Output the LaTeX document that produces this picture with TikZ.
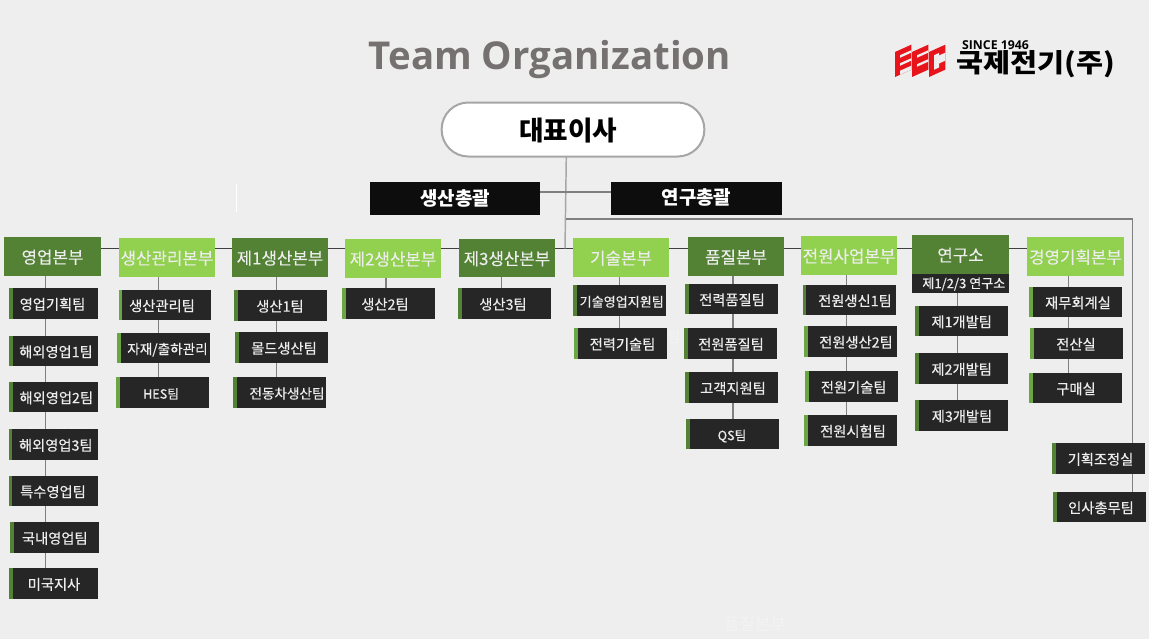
\documentclass[tikz,border=0pt]{standalone}
\usepackage{fontspec}
\setmainfont{Noto Sans CJK KR}
\newfontfamily\titlefont{Open Sans}
\newfontfamily\medk[FakeBold=0.4]{Noto Sans CJK KR}
\newfontfamily\medh[FakeBold=0.2]{Noto Sans CJK KR}
\usetikzlibrary{backgrounds}
\definecolor{bgc}{HTML}{EEEEEE}
\definecolor{dgreen}{HTML}{548235}
\definecolor{lgreen}{HTML}{92D050}
\definecolor{mgreen}{HTML}{6BA644}
\definecolor{darkbox}{HTML}{262626}
\definecolor{blackbox}{HTML}{0D0D0D}
\definecolor{txt}{HTML}{EDEDED}
\definecolor{faint}{HTML}{F3F3F3}
\definecolor{conn}{HTML}{7F7F7F}
\definecolor{busc}{HTML}{404040}
\definecolor{logored}{HTML}{E8141C}
\definecolor{titlec}{HTML}{767171}
\definecolor{ceoline}{HTML}{A6A6A6}
\newcommand\fz[1]{\fontsize{#1}{#1}\selectfont}
\newcommand\vset[2]{\raisebox{#1}[0pt][0pt]{#2}}
\tikzset{
 x=0.75pt,y=-0.75pt,
 plain/.style={inner sep=0pt,outer sep=0pt,draw=none},
 teambox/.style={plain,fill=darkbox,text=txt,font=\medk\fz{10.7pt}},
 headbox/.style={plain,text=txt,font=\medh\fz{12.6pt}},
 chiefbox/.style={plain,fill=blackbox,text=white,font=\fz{14.2pt}\bfseries},
 barbox/.style={plain,anchor=north west},
 connline/.style={draw=conn,line width=1.1pt},
 busline/.style={draw=busc,line width=0.9pt},
 faintlabel/.style={plain,text=faint,font=\fz{12.6pt}},
 slit/.style={fill=bgc,draw=none},
}
% name, bar colour, x0, bar right, x1, y0, y1, text centre x, text
\newcommand\team[9]{%
 \pgfmathsetmacro\bw{(#5-#4)*0.75}%
 \pgfmathsetmacro\bh{(#7-#6)*0.75}%
 \pgfmathsetmacro\bwb{(#4-#3)*0.75}%
 \pgfmathsetmacro\off{(#8-(#4+#5)/2)*1.5}%
 \node[teambox,minimum width=\bw pt,minimum height=\bh pt] (#1) at ({(#4+#5)/2},{(#6+#7)/2}) {\vset{-4.6pt}{\makebox[0pt]{\hspace*{\off pt}\ignorespaces#9}}};%
 \node[barbox,fill=#2,minimum width=\bwb pt,minimum height=\bh pt] (#1bar) at (#3,#6) {};%
}
% name, fill, x0, x1, y0, y1, text
\newcommand\head[7]{%
 \pgfmathsetmacro\bw{(#4-#3)*0.75}%
 \pgfmathsetmacro\bh{(#6-#5)*0.75}%
 \node[headbox,fill=#2,minimum width=\bw pt,minimum height=\bh pt] (#1) at ({(#3+#4)/2},{(#5+#6)/2}) {\vset{-5.2pt}{\makebox[0pt]{#7}}};%
}
\newcommand\logoletter[2]{%
 \begin{scope}[cm={1,0.45,0,1,(#1,52)}]
  \fill[logored] (0,0) rectangle (16.4,25);
  #2
 \end{scope}%
}
\begin{document}
\begin{tikzpicture}
\useasboundingbox (0,0) rectangle (1149,639);
% title and logo
\node[plain,text=titlec,font=\titlefont\fz{28.8pt}\bfseries] (title) at (549.8,60) {Team Organization};
\logoletter{895}{\fill[slit] (5,5.5) rectangle (16.4,8);\fill[slit] (5,13.5) rectangle (16.4,16);\fill[slit] (5,21) rectangle (16.4,25);}
\logoletter{912}{\fill[slit] (5,5.5) rectangle (16.4,8);\fill[slit] (5,14.5) rectangle (16.4,17);}
\logoletter{929}{\fill[slit] (5,5.5) rectangle (10,20);\fill[slit] (10,8) rectangle (16.4,16);}
\node[plain,text=black,font=\titlefont\fz{9.2pt}\bfseries] (since) at (995.5,45) {SINCE 1946};
\node[plain,text=black,font=\fz{18.5pt}\bfseries] (kec) at (1035.5,64.5) {\resizebox{119pt}{16.5pt}{국제전기(주)}};
% faint leftovers
\node[faintlabel] (f1) at (755,624) {품질본부};
\node[faintlabel,font=\fz{10.7pt}] (f2) at (674,337) {팀};
\node[faintlabel,font=\fz{10.7pt}] (f3) at (61,433) {특수영업팀};
% top
\node[plain,draw=ceoline,line width=1.5pt,fill=white,rounded corners=20pt,minimum width=197pt,minimum height=40.5pt,text=black,font=\fz{20pt}\bfseries] (ceo) at (573,129.5) {\vset{-8.5pt}{\makebox[0pt]{\hspace*{-7pt}대표이사}}};
\node[chiefbox,minimum width=127.5pt,minimum height=24.75pt] (sc) at (455,198.5) {\vset{-5.2pt}{\makebox[0pt]{생산총괄}}};
\node[chiefbox,minimum width=128.25pt,minimum height=24.75pt] (rc) at (696.5,198.5) {\vset{-4.6pt}{\makebox[0pt]{연구총괄}}};
% headers
\head{h1}{dgreen}{4}{101}{237}{276}{영업본부}
\head{h2}{lgreen}{119}{215}{238}{277}{생산관리본부}
\head{h3}{dgreen}{232}{328}{238}{277}{제1생산본부}
\head{h4}{lgreen}{345}{441}{239}{278}{제2생산본부}
\head{h5}{dgreen}{459}{555}{239}{277}{제3생산본부}
\head{h6}{lgreen}{573}{669}{238}{277}{기술본부}
\head{h7}{dgreen}{688}{784}{237}{276}{품질본부}
\head{h8}{lgreen}{801}{897}{236}{275}{전원사업본부}
\head{h9}{dgreen}{912}{1009}{235}{274}{연구소}
\head{h10}{lgreen}{1027}{1124}{237}{276}{경영기획본부}
\node[plain,fill=darkbox,text=txt,font=\medk\fz{9.8pt},minimum width=72.75pt,minimum height=14.25pt] (h9sub) at (960.5,283.5) {\vset{-3.5pt}{\makebox[0pt]{\hspace*{5pt}제1/2/3 연구소}}};
% column 1
\team{a1}{dgreen}{9}{13}{98}{288}{319}{52.5}{영업기획팀}
\team{a2}{dgreen}{9}{13}{98}{336}{366}{56}{해외영업1팀}
\team{a3}{dgreen}{9}{13}{98}{382}{412}{56.3}{해외영업2팀}
\team{a4}{dgreen}{9}{12}{98}{429}{460}{55.8}{해외영업3팀}
\team{a5}{dgreen}{9}{12}{98}{476}{506}{53}{특수영업팀}
\team{a6}{dgreen}{10}{14}{99}{522}{553}{54.8}{국내영업팀}
\team{a7}{dgreen}{9}{13}{98}{568}{599}{54}{미국지사}
% column 2
\team{b1}{mgreen}{119}{122}{211}{290}{320}{162}{생산관리팀}
\team{b2}{mgreen}{117}{121}{210}{333}{363}{167.5}{\fz{10.2pt}자재/출하관리}
\team{b3}{mgreen}{116}{120}{209}{377}{408}{161}{\fz{9.5pt}HES팀}
% column 3
\team{c1}{dgreen}{234}{238}{327}{290}{321}{280}{생산1팀}
\team{c2}{dgreen}{235}{239}{328}{332}{363}{284}{몰드생산팀}
\team{c3}{dgreen}{233}{237}{326}{377}{408}{287}{\fz{10.2pt}전동차생산팀}
% column 4, 5
\team{d1}{mgreen}{342}{346}{435}{288}{319}{385}{생산2팀}
\team{e1}{dgreen}{458}{462}{551}{288}{319}{503}{생산3팀}
% column 6
\team{f5}{dgreen}{573}{577}{666}{285}{316}{621.7}{\fz{9.8pt}기술영업지원팀}
\team{f6}{mgreen}{574}{578}{667}{328}{359}{622.5}{전력기술팀}
% column 7
\team{g1}{dgreen}{685}{689}{778}{284}{314}{732}{전력품질팀}
\team{g2}{dgreen}{684}{688}{777}{328}{359}{731}{전원품질팀}
\team{g3}{dgreen}{685}{689}{778}{372}{403}{733}{고객지원팀}
\team{g4}{dgreen}{686}{690}{779}{419}{449}{732}{\fz{9.5pt}QS팀}
% column 8
\team{p1}{dgreen}{803}{806}{896}{285}{315}{855}{전원생신1팀}
\team{p2}{mgreen}{804}{808}{897}{326}{357}{856}{전원생산2팀}
\team{p3}{mgreen}{805}{809}{898}{371}{402}{853.7}{전원기술팀}
\team{p4}{mgreen}{804}{808}{897}{415}{446}{853}{전원시험팀}
% column 9
\team{r1}{dgreen}{915}{919}{1008}{306}{336}{961.7}{제1개발팀}
\team{r2}{dgreen}{915}{919}{1008}{353}{384}{961.7}{제2개발팀}
\team{r3}{dgreen}{915}{919}{1008}{400}{431}{962}{제3개발팀}
% column 10
\team{m1}{mgreen}{1029}{1033}{1122}{287}{317}{1078}{재무회계실}
\team{m2}{mgreen}{1030}{1034}{1123}{328}{359}{1076}{전산실}
\team{m3}{mgreen}{1029}{1033}{1122}{373}{403}{1076}{구매실}
% right column
\team{x1}{dgreen}{1052}{1056}{1145}{443}{474}{1100.5}{기획조정실}
\team{x2}{dgreen}{1053}{1057}{1146}{492}{522}{1101}{인사총무팀}
% connectors and background
\coordinate (bus) at (565,248.5);
\coordinate (top) at (566,219);
\coordinate (corner) at (1132.5,219);
\coordinate (wa) at (236.5,184);
\coordinate (wb) at (236.5,212);
\begin{scope}[on background layer]
 \fill[bgc] (0,0) rectangle (1149,639);
 \draw[white,line width=0.6pt] (wa) -- (wb);
 \draw[busline] (h1.east |- bus) -- (h10.west |- bus);
 \draw[draw=ceoline,line width=1.1pt] (566.3,0 |- ceo.south) -- (bus);
 \draw[connline] (sc.east |- 0,192) -- (rc.west |- 0,192);
 \draw[connline] (top) -- (corner) -- (corner |- x2.north);
 \draw[connline] (45.5,0 |- h1.south) -- (45.5,0 |- a7.north);
 \draw[connline] (158.3,0 |- h2.south) -- (158.3,0 |- b3.north);
 \draw[connline] (276.3,0 |- h3.south) -- (276.3,0 |- c3.north);
 \draw[connline] (386,0 |- h4.south) -- (386,0 |- d1.north);
 \draw[connline] (501.7,0 |- h5.south) -- (501.7,0 |- e1.north);
 \draw[connline] (619.5,0 |- h6.south) -- (619.5,0 |- f6.north);
 \draw[connline] (733,0 |- h7.south) -- (733,0 |- g4.north);
 \draw[connline] (846.5,0 |- h8.south) -- (846.5,0 |- p4.north);
 \draw[connline] (957.5,0 |- h9sub.south) -- (957.5,0 |- r3.north);
 \draw[connline] (1068.5,0 |- h10.south) -- (1068.5,0 |- m3.north);
\end{scope}
\end{tikzpicture}
\end{document}
